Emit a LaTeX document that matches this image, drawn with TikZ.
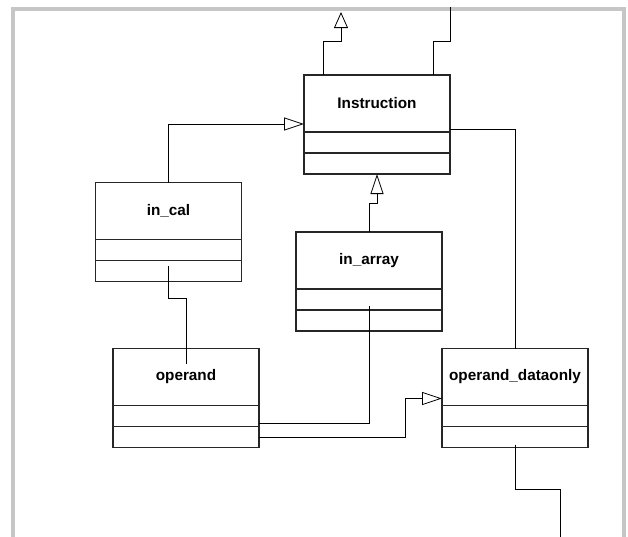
\documentclass[tikz,border=0pt]{standalone}
\usepackage{fontspec}
\setmainfont{Liberation Sans}
\usetikzlibrary{arrows.meta, positioning}

\begin{document}
\begin{tikzpicture}[x=1pt, y=-1pt,
        cls/.style={draw=black!85, line width=1.2pt, outer sep=0pt, inner sep=0pt, minimum width=146pt, minimum height=57pt, font=\fontsize{15.3}{18}\selectfont\bfseries},
        part/.style={draw=black!85, line width=1.2pt, outer sep=0pt, inner sep=0pt, minimum width=146pt, minimum height=21pt},
        link/.style={line width=0.8pt},
        inherit/.style={link, -{Triangle[open, length=20pt, width=13pt]}}]
            \useasboundingbox (0,0) rectangle (628,536);
            \draw[gray!45, line width=4pt] (13,540) -- (13,9) -- (624,9) -- (624,540);
            \foreach \x/\y/\name/\txt in {377/103.5/instr/Instruction, 168.5/211/incal/in\_cal, 369/260.5/inarray/in\_array, 186/377/operand/operand, 515/377/opdata/operand\_dataonly} {
                \node[cls] (\name) at (\x,\y) {\txt};
                \node[part, below=0pt of \name] (\name-a) {};
                \node[part, below=0pt of \name-a] (\name-b) {};
            }
            \coordinate (top1) at (341,12);
            \coordinate (top2) at (450,7);
            \coordinate (bot1) at (560,540);
            \draw[inherit, -{Triangle[open, length=16pt, width=14pt]}] ([xshift=19pt]instr.north west) -- ++(0,-34) -| (top1);
            \draw[link] ([xshift=-17pt]instr.north east) -- ++(0,-34) -| (top2);
            \draw[inherit] (incal.north) |- ([yshift=-20.5pt]instr.west);
            \draw[inherit] (inarray.north) -- ++(0,-29) -| (instr-b.south);
            \draw[link] ([yshift=-25.5pt]instr.east) -| (opdata.north);
            \draw[link] ([yshift=5pt]incal-b.center) -- ++(0,32) -| ([yshift=13pt]operand.center);
            \draw[link] ([yshift=4pt]inarray-b.north) |- ([yshift=3pt]operand-a.south east);
            \draw[inherit] (operand-b.east) -- ++(146,0) |- ([yshift=7pt]opdata.south west);
            \draw[link] ([yshift=3pt]opdata-b.south) -- ++(0,45) -| (bot1);
        \end{tikzpicture}
\end{document}
